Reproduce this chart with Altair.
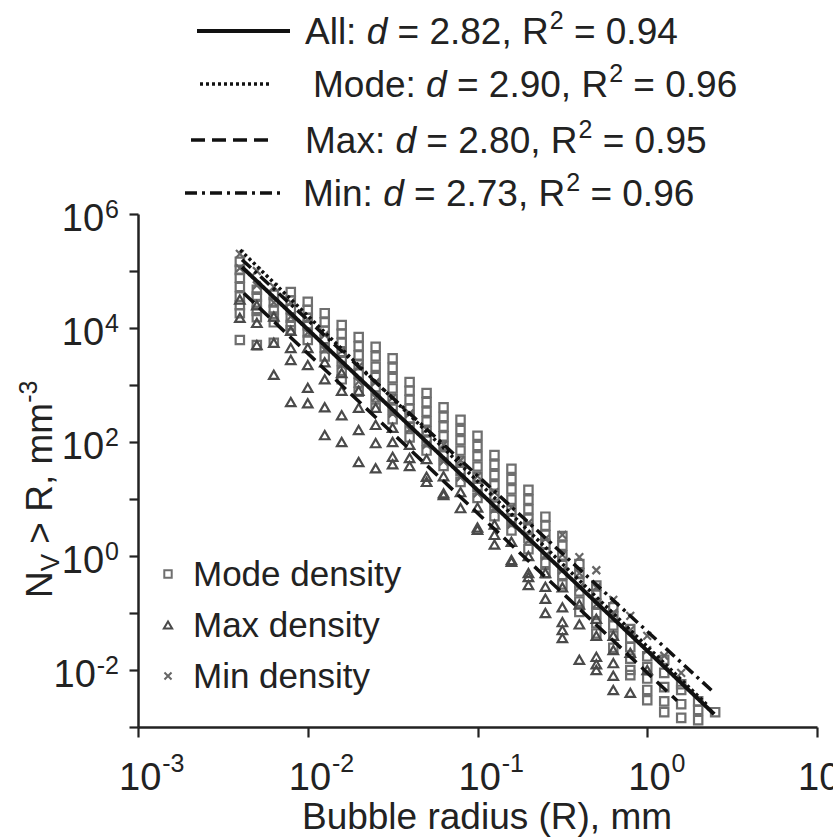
import altair as alt
import pandas as pd

# ---------------- data (log10 values) ----------------
bin_logR = [-2.4, -2.3, -2.2, -2.1, -2.0, -1.9, -1.8, -1.7, -1.6, -1.5,
            -1.4, -1.3, -1.2, -1.1, -1.0, -0.9, -0.8, -0.7, -0.6, -0.5,
            -0.4, -0.3, -0.2, -0.1, 0.0, 0.1, 0.2, 0.3, 0.4]

mode_logN = [
    [5.16, 5.02, 4.88, 4.72, 4.55, 4.40, 4.26, 3.79],
    [4.67, 4.55, 4.42, 4.30, 4.19, 3.70],
    [4.58, 4.45, 4.32, 4.20, 4.10, 3.74],
    [4.63, 4.48, 4.33, 4.18, 4.05, 3.96],
    [4.46, 4.32, 4.18, 4.05, 3.92, 3.79],
    [4.26, 4.10, 3.95, 3.80, 3.66, 3.50],
    [4.05, 3.90, 3.74, 3.58, 3.42, 3.25, 3.10],
    [3.84, 3.68, 3.52, 3.36, 3.20, 3.04, 2.88],
    [3.67, 3.50, 3.32, 3.14, 2.96, 2.78, 2.60],
    [3.47, 3.30, 3.12, 2.94, 2.76, 2.58, 2.40],
    [3.05, 2.90, 2.74, 2.58, 2.42, 2.26, 2.08],
    [2.86, 2.70, 2.53, 2.36, 2.19, 2.02, 1.85],
    [2.61, 2.44, 2.27, 2.10, 1.93, 1.76, 1.58],
    [2.39, 2.21, 2.03, 1.85, 1.67, 1.49, 1.30],
    [2.11, 1.93, 1.75, 1.57, 1.39, 1.21, 1.02],
    [1.77, 1.60, 1.42, 1.24, 1.06, 0.88, 0.70],
    [1.53, 1.35, 1.17, 0.99, 0.81, 0.63, 0.45],
    [1.16, 0.99, 0.82, 0.65, 0.48, 0.31, 0.12],
    [0.69, 0.53, 0.37, 0.21, 0.05, -0.12, -0.30],
    [0.35, 0.18, 0.01, -0.16, -0.33, -0.50],
    [-0.14, -0.30, -0.46, -0.62, -0.80, -0.98],
    [-0.52, -0.68, -0.84, -1.00, -1.18, -1.36],
    [-0.90, -1.06, -1.22, -1.40, -1.61],
    [-1.28, -1.44, -1.60, -1.80, -2.00, -2.09],
    [-1.76, -1.95, -2.15, -2.35, -2.53],
    [-1.82, -2.05, -2.30, -2.55, -2.74],
    [-2.25, -2.35, -2.60, -2.84],
    [-2.55, -2.70, -2.88],
    [-2.74],
]

max_logN = [
    [4.50, 4.18],
    [4.40, 4.09, 3.70],
    [4.20, 3.74, 3.18],
    [3.95, 3.65, 3.44, 2.70],
    [3.65, 3.35, 2.95, 2.68],
    [3.40, 3.10, 2.61, 2.12],
    [3.21, 2.90, 2.47, 2.00],
    [2.90, 2.60, 2.21, 1.65],
    [2.60, 2.30, 1.98, 1.54],
    [2.25, 2.00, 1.74, 1.61],
    [1.95, 1.72, 1.58],
    [1.70, 1.39, 1.30],
    [1.40, 1.07, 1.10],
    [1.12, 0.84],
    [0.85, 0.50, 0.46],
    [0.55, 0.37, 0.20],
    [0.25, -0.07, -0.10],
    [0.00, -0.30, -0.37, -0.51],
    [-0.30, -0.54, -0.75, -1.00],
    [-0.55, -0.90, -1.16, -1.30, -1.44],
    [-0.85, -1.20, -1.82],
    [-1.10, -1.40, -1.77, -1.90, -2.00],
    [-1.40, -1.65, -1.88, -2.10, -2.35],
    [-1.70, -2.40],
    [-2.00],
    [], [], [], [],
]

min_logN = [
    [5.30, 5.05], [5.00, 4.75], [4.72, 4.45], [4.45, 4.20], [4.15, 3.92],
    [3.88, 3.62], [3.60, 3.35], [3.32, 3.06], [3.05, 2.78], [2.78, 2.50],
    [2.50, 2.22], [2.22, 1.95], [1.95, 1.66], [1.68, 1.38], [1.40, 1.10],
    [1.12, 0.82], [0.85, 0.55], [0.58, 0.27], [0.30, 0.00],
    [0.37, 0.02, -0.25], [-0.02, -0.30, -0.55], [-0.25, -0.55, -0.85],
    [-0.77, -1.00], [-1.05, -1.30], [-1.40, -1.65], [-1.75], [-2.05], [], [],
]

# power-law fits: end points of each fitted line
fit_names = ["All", "Mode", "Max", "Min"]
fit_R = [[0.0041, 2.48], [0.0040, 2.24], [0.0042, 1.50], [0.0041, 2.48]]
fit_N = [[1.17e5, 1.68e-3], [2.34e5, 2.48e-3], [4.07e4, 2.88e-3], [1.58e5, 3.98e-3]]
fit_d = ["2.82", "2.90", "2.80", "2.73"]
fit_r2 = ["0.94", "0.96", "0.95", "0.96"]

x_ticks = [1e-3, 1e-2, 1e-1, 1e0, 1e1]
x_exps = ["-3", "-2", "-1", "0", "1"]
y_ticks = [1e-3, 1e-2, 1e-1, 1e0, 1e1, 1e2, 1e3, 1e4, 1e5, 1e6]
y_lab_vals = [1e6, 1e4, 1e2, 1e0, 1e-2]
y_exps = ["6", "4", "2", "0", "-2"]

# ---------------- layout ----------------
F = "Liberation Sans"
L, T, W, H = 138, 214, 679, 513
W_ARIAL = {" ": 278, ":": 278, ",": 278, ".": 278, "=": 584, ">": 584, "-": 333,
           "A": 667, "l": 222, "d": 556, "M": 833, "o": 556, "e": 556, "a": 556,
           "x": 500, "i": 222, "n": 556, "R": 722, "N": 722, "V": 667, "m": 833}
for c in "0123456789":
    W_ARIAL[c] = 556


def tw(s, fs):
    return sum(W_ARIAL.get(c, 556) for c in s) / 1000.0 * fs


def pts_df(series):
    rows = []
    for r, vals in zip(bin_logR, series):
        for v in vals:
            rows.append({"R": 10 ** r, "N": 10 ** v})
    return pd.DataFrame(rows)


xscale = alt.Scale(type="log", domain=[1e-3, 10], nice=False)
yscale = alt.Scale(type="log", domain=[1e-3, 1e6], nice=False)
xaxis = alt.Axis(values=x_ticks, labels=False, title=None, tickSize=10, tickWidth=2.2,
                 tickColor="#222", domainColor="#222", domainWidth=2.5, grid=False)
yaxis = alt.Axis(values=y_ticks, labels=False, title=None, tickSize=9, tickWidth=2.2,
                 tickColor="#222", domainColor="#222", domainWidth=2.5, grid=False)

X = alt.X("R:Q", scale=xscale, axis=xaxis)
Y = alt.Y("N:Q", scale=yscale, axis=yaxis)

XSHAPE = "M-1,-1L1,1M1,-1L-1,1"
SQ_COL, TR_COL, X_COL = "#6f6f6f", "#4a4a4a", "#666666"

squares = alt.Chart(pts_df(mode_logN)).mark_point(
    shape="square", filled=False, size=70, strokeWidth=2.2, color=SQ_COL, opacity=1
).encode(x=X, y=Y)
triangles = alt.Chart(pts_df(max_logN)).mark_point(
    shape="triangle-up", filled=False, size=90, strokeWidth=2.2, color=TR_COL, opacity=1
).encode(x=X, y=Y)
crosses = alt.Chart(pts_df(min_logN)).mark_point(
    shape=XSHAPE, filled=False, size=60, strokeWidth=2.2, color=X_COL, opacity=1
).encode(x=X, y=Y)

dashes = [[1, 0], [3, 3], [14, 7], [12, 5, 3, 5]]
widths = [4, 3.5, 3.5, 3.5]
line_layers = []
for name, rr, nn, dsh, wd in zip(fit_names, fit_R, fit_N, dashes, widths):
    df = pd.DataFrame({"R": rr, "N": nn, "fit": [name, name]})
    line_layers.append(
        alt.Chart(df).mark_line(color="#111", strokeWidth=wd, strokeDash=dsh).encode(x=X, y=Y)
    )

text_layers = []

# x tick labels
FS_T = 38
FS_S = 25
xl = pd.DataFrame({"R": x_ticks, "ten": ["10"] * 5, "e": x_exps})
XDX = -19
text_layers.append(alt.Chart(xl).mark_text(font=F, fontSize=FS_T, align="left", baseline="alphabetic",
                                           dx=XDX, color="#222").encode(x=X, text="ten:N", y=alt.value(790 - T)))
text_layers.append(alt.Chart(xl).mark_text(font=F, fontSize=FS_S, align="left", baseline="alphabetic",
                                           dx=XDX + tw("10", FS_T) + 1, color="#222").encode(
    x=X, text="e:N", y=alt.value(772 - T)))

# y tick labels
for val, e in zip(y_lab_vals, y_exps):
    d1 = pd.DataFrame({"N": [val], "ten": ["10"], "e": [e]})
    sx = -19
    text_layers.append(alt.Chart(d1).mark_text(font=F, fontSize=FS_S, align="right", baseline="alphabetic",
                                               dy=4, color="#222").encode(
        y=Y, text="e:N", x=alt.value(sx)))
    text_layers.append(alt.Chart(d1).mark_text(font=F, fontSize=FS_T, align="right", baseline="alphabetic",
                                               dy=17, color="#222").encode(
        y=Y, text="ten:N", x=alt.value(sx - tw(e, FS_S) - 1)))


def txt(s, x, y, fs, style="normal", angle=0, align="left"):
    d = pd.DataFrame({"t": [s]})
    kw = dict(font=F, fontSize=fs, fontStyle=style, align=align, baseline="alphabetic", color="#222")
    if angle:
        kw["angle"] = angle
    return alt.Chart(d).mark_text(**kw).encode(text="t:N", x=alt.value(x - L), y=alt.value(y - T))


SP = 0.278  # width of a space, em

# x axis title
FS_TITLE = 37
title_x = "Bubble radius (R), mm"
text_layers.append(txt(title_x, 487, 829, FS_TITLE, align="center"))

# y axis title (rotated, built from pieces for subscript / superscript)
yb = 598
bx = 52
text_layers.append(txt("N", bx, yb, FS_TITLE, angle=270))
y2 = yb - tw("N", FS_TITLE)
text_layers.append(txt("V", bx + 7, y2, 26, angle=270))
y3 = y2 - tw("V", 26) - SP * FS_TITLE
text_layers.append(txt("> R, mm", bx, y3, FS_TITLE, angle=270))
y4 = y3 - tw("> R, mm", FS_TITLE)
text_layers.append(txt("-3", bx - 15, y4, FS_S, angle=270))

# top legend for fitted lines
FS_L = 37
leg_rows = [31, 84, 140, 193]
leg_line_x = [(197, 290), (200, 272), (191, 275), (185, 281)]
leg_text_x = [305, 313, 305, 303]
for i, name in enumerate(fit_names):
    cy = leg_rows[i]
    x0, x1 = leg_line_x[i]
    rule_df = pd.DataFrame({"a": [0]})
    text_layers.append(alt.Chart(rule_df).mark_rule(color="#111", strokeWidth=widths[i],
                                                    strokeDash=dashes[i]).encode(
        x=alt.value(x0 - L), x2=alt.value(x1 - L), y=alt.value(cy - T)))
    base = cy + 13
    x = leg_text_x[i]
    s1 = name + ":"
    text_layers.append(txt(s1, x, base, FS_L))
    x += tw(s1, FS_L) + SP * FS_L
    text_layers.append(txt("d", x, base, FS_L, style="italic"))
    x += tw("d", FS_L) + SP * FS_L
    s2 = "= " + fit_d[i] + ", R"
    text_layers.append(txt(s2, x, base, FS_L))
    x += tw(s2, FS_L)
    text_layers.append(txt("2", x + 1, base - 15, FS_S))
    x += tw("2", FS_S) + 1 + SP * FS_L
    s3 = "= " + fit_r2[i]
    text_layers.append(txt(s3, x, base, FS_L))

# inner legend for symbols
FS_IL = 35
il_names = ["Mode density", "Max density", "Min density"]
il_shapes = ["square", "triangle-up", XSHAPE]
il_colors = [SQ_COL, TR_COL, X_COL]
il_sizes = [55, 70, 50]
il_y = [574, 625, 676]
for nm, shp, col, sz, cy in zip(il_names, il_shapes, il_colors, il_sizes, il_y):
    d = pd.DataFrame({"a": [0]})
    text_layers.append(alt.Chart(d).mark_point(shape=shp, filled=False, size=sz, strokeWidth=2,
                                               color=col, opacity=1).encode(
        x=alt.value(168 - L), y=alt.value(cy - T)))
    text_layers.append(txt(nm, 193, cy + 12, FS_IL))

chart = alt.layer(squares, triangles, crosses, *line_layers, *text_layers).properties(
    width=W, height=H,
    autosize=alt.AutoSizeParams(type="none"),
    padding={"left": L, "top": T, "right": 833 - L - W, "bottom": 840 - T - H},
    background="white",
).configure_view(stroke=None)

chart.save("out.html", embed_options={"renderer": "svg", "actions": False})
